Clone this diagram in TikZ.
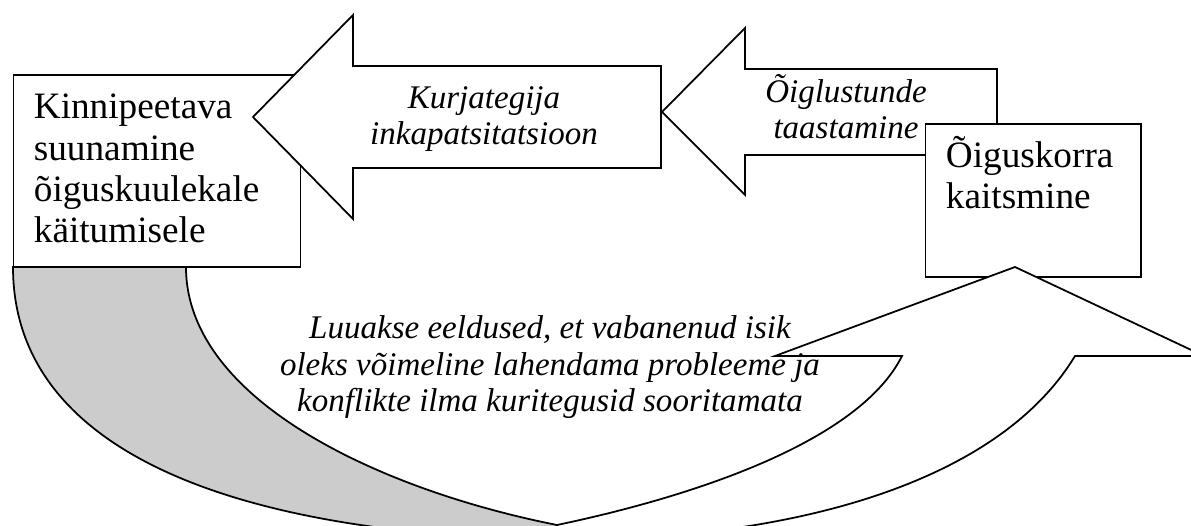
\documentclass[tikz,border=0pt]{standalone}
\usepackage{fontspec}
\setmainfont{Liberation Serif}
\usepackage{xcolor}
\usepackage{tikz}

\begin{document}
\begin{tikzpicture}[x=0.02cm, y=-0.02cm, line width=1pt,
        every node/.style={inner sep=0pt, font=\fontsize{21.2}{23.6}\selectfont},
        box/.style={draw, fill=white, rectangle},
        note/.style={align=center, font=\fontsize{18.8}{20.8}\selectfont\itshape}]
        \useasboundingbox (0,0) rectangle (1191,526);
        \clip (0,0) rectangle (1191,526);

        \draw[fill=white] (997,69) -- (745,69) -- (745,28) -- (662,112)
            -- (745,195) -- (745,155) -- (997,155) -- cycle;
        \node[box, minimum width=122.5pt, minimum height=86.7pt] (O) at (1033,200.5) {};
        \node[anchor=base west, align=left] (OT) at (945,209) {Õiguskorra\\kaitsmine};

        \node[box, minimum width=163.3pt, minimum height=108.9pt] (K) at (157,171) {};
        \node[anchor=base west, align=left] (KT) at (33,243)
            {Kinnipeetava\\suunamine\\õiguskuulekale\\käitumisele};

        \draw[fill=white] (661,66) -- (353,66) -- (353,15) -- (253,117)
            -- (353,219) -- (353,168) -- (661,168) -- cycle;
        \node[note, anchor=base] (I) at (484,145) {Kurjategija\\inkapatsitatsioon};
        \node[note, anchor=base] (T) at (846,139) {Õiglustunde\\taastamine};

        \draw[fill=gray!40] (13,267) .. controls (13,450) and (230,535) .. (560,540)
            -- (557,525) .. controls (380,490) and (186,400) .. (186,267) -- cycle;
        \draw[fill=white] (557,525) .. controls (700,495) and (860,440) .. (902,356)
            -- (775,356) -- (1015,267) -- (1204,356) -- (1075,356)
            .. controls (1000,480) and (800,540) .. (560,540) -- cycle;
        \node[note, anchor=base] (L) at (550,412)
            {Luuakse eeldused, et vabanenud isik\\oleks võimeline lahendama probleeme ja\\konflikte ilma kuritegusid sooritamata};
    \end{tikzpicture}
\end{document}
